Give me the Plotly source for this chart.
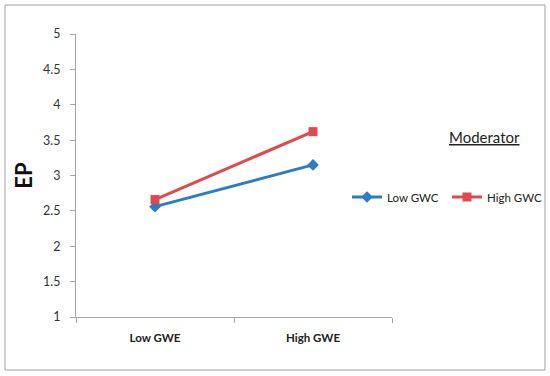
import plotly.graph_objects as go

categories = ["Low GWE", "High GWE"]
low_gwc = [2.56, 3.15]
high_gwc = [2.66, 3.62]
y_ticks = [1, 1.5, 2, 2.5, 3, 3.5, 4, 4.5, 5]
y_tick_labels = ["1", "1.5", "2", "2.5", "3", "3.5", "4", "4.5", "5"]

W, H = 550, 376
L, R, T, B = 76, 158, 34, 59
pw, ph = W - L - R, H - T - B

def px2x(px):
    return (px - L) / pw

def px2y(py):
    return (H - B - py) / ph

font = "Lato"

fig = go.Figure()
fig.add_trace(go.Scatter(
    x=categories, y=low_gwc, name="Low GWC", mode="lines+markers",
    line=dict(color="#2F7CC2", width=3),
    marker=dict(symbol="diamond", size=9, color="#2F7CC2"),
))
fig.add_trace(go.Scatter(
    x=categories, y=high_gwc, name="High GWC", mode="lines+markers",
    line=dict(color="#E04A4C", width=3),
    marker=dict(symbol="square", size=9, color="#E04A4C"),
))

fig.update_layout(
    width=W, height=H,
    margin=dict(l=L, r=R, t=T, b=B, autoexpand=False),
    paper_bgcolor="white", plot_bgcolor="white",
    font=dict(family=font, size=12, color="#222"),
    showlegend=True,
    legend=dict(
        orientation="h", x=px2x(347), y=px2y(197), xanchor="left", yanchor="middle",
        font=dict(family=font, size=11.5, color="#222"),
        itemwidth=30, tracegroupgap=0, bgcolor="rgba(0,0,0,0)",
        entrywidth=55, entrywidthmode="pixels",
    ),
    xaxis=dict(
        type="category", range=[-0.5, 1.5], showgrid=False, automargin=False,
        showline=True, linecolor="#A6A6A6", linewidth=1,
        ticks="outside", tickson="boundaries", ticklen=5, tickcolor="#A6A6A6",
        tickfont=dict(family=font, size=11.5, color="#222", weight="bold"),
        ticklabelstandoff=10,
        zeroline=False,
    ),
    yaxis=dict(
        range=[1, 5], tickvals=y_ticks, ticktext=y_tick_labels, showgrid=False, automargin=False,
        showline=True, linecolor="#A6A6A6", linewidth=1,
        ticks="outside", ticklen=5, tickcolor="#A6A6A6",
        tickfont=dict(family=font, size=12.5, color="#333"),
        ticklabelstandoff=7,
        zeroline=False,
        title=dict(text="<b>EP</b>", font=dict(family=font, size=22, color="#111"), standoff=4),
    ),
    annotations=[dict(
        text="<u>Moderator</u>", x=px2x(484), y=px2y(137), xref="paper", yref="paper",
        showarrow=False, xanchor="center", yanchor="middle",
        font=dict(family=font, size=15, color="#222"),
    )],
    shapes=[dict(
        type="rect", xref="paper", yref="paper",
        x0=px2x(5), x1=px2x(545), y0=px2y(370), y1=px2y(5),
        line=dict(color="#A0A0A0", width=1), fillcolor="rgba(0,0,0,0)", layer="below",
    )],
)

fig.write_html("out.html", config={"displayModeBar": False},
               post_script="document.body.style.margin='0';")
